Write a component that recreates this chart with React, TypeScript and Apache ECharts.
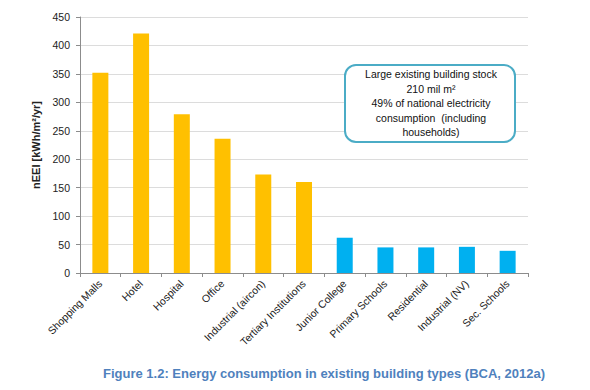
import React, { useEffect, useRef } from "react";
import * as echarts from "echarts";

const categories = [
  "Shopping Malls",
  "Hotel",
  "Hospital",
  "Office",
  "Industrial (aircon)",
  "Tertiary Institutions",
  "Junior College",
  "Primary Schools",
  "Residential",
  "Industrial (NV)",
  "Sec. Schools",
];
const values = [352, 421, 279, 236, 173, 160, 62, 45, 45, 46, 39];
const groups = ["large", "large", "large", "large", "large", "large", "small", "small", "small", "small", "small"];
const groupColors: Record<string, string> = { large: "#FFC000", small: "#00B0F0" };
const yTicks = { min: 0, max: 450, interval: 50 };
const yAxisName = "nEEI [kWh/m²/yr]";
const boxLines = [
  "Large existing building stock",
  "210 mil m²",
  "49% of national electricity",
  "consumption  (including",
  "households)",
];
const caption = "Figure 1.2: Energy consumption in existing building types (BCA, 2012a)";

export default function App() {
  const ref = useRef<HTMLDivElement>(null);
  useEffect(() => {
    document.body.style.margin = "0";
    const chart = echarts.init(ref.current!, null, { renderer: "svg" });
    const font = "Liberation Sans, Arial, sans-serif";
    chart.setOption({
      animation: false,
      backgroundColor: "#ffffff",
      textStyle: { fontFamily: font },
      grid: { left: 80, right: 62, top: 17, bottom: 117 },
      xAxis: {
        type: "category",
        data: categories,
        axisLine: { lineStyle: { color: "#8c8c8c" } },
        axisTick: { show: true, length: 4, lineStyle: { color: "#8c8c8c" } },
        axisLabel: {
          rotate: 45,
          fontSize: 10.5,
          color: "#222",
          margin: 9,
          interval: 0,
          fontFamily: font,
        },
      },
      yAxis: {
        type: "value",
        min: yTicks.min,
        max: yTicks.max,
        interval: yTicks.interval,
        name: yAxisName,
        nameLocation: "middle",
        nameGap: 36,
        nameTextStyle: { fontSize: 11, fontWeight: "bold", color: "#222", fontFamily: font },
        axisLine: { show: true, lineStyle: { color: "#8c8c8c" } },
        axisTick: { show: true, length: 4, lineStyle: { color: "#8c8c8c" } },
        axisLabel: { fontSize: 10.5, color: "#222", margin: 10, fontFamily: font },
        splitLine: { lineStyle: { color: "#dcdcdc" } },
      },
      series: [
        {
          type: "bar",
          barWidth: 16,
          data: values.map((v, i) => ({ value: v, itemStyle: { color: groupColors[groups[i]] } })),
        },
      ],
      graphic: [
        {
          type: "rect",
          shape: { x: 345, y: 65, width: 170, height: 77, r: 11 },
          style: { fill: "#ffffff", stroke: "#4BACC6", lineWidth: 2 },
          z: 10,
        },
        {
          type: "text",
          x: 431,
          y: 67,
          z: 11,
          style: {
            text: boxLines.join("\n"),
            fontSize: 10.5,
            lineHeight: 14.5,
            fontFamily: font,
            fill: "#111",
            align: "center",
            verticalAlign: "top",
          },
        },
        {
          type: "text",
          x: 324,
          y: 373,
          style: {
            text: caption,
            fontSize: 13,
            fontWeight: "bold",
            fontFamily: font,
            fill: "#4F81BD",
            align: "center",
            verticalAlign: "middle",
          },
        },
      ],
    });
    return () => chart.dispose();
  }, []);
  return <div ref={ref} style={{ width: 590, height: 390 }} />;
}
